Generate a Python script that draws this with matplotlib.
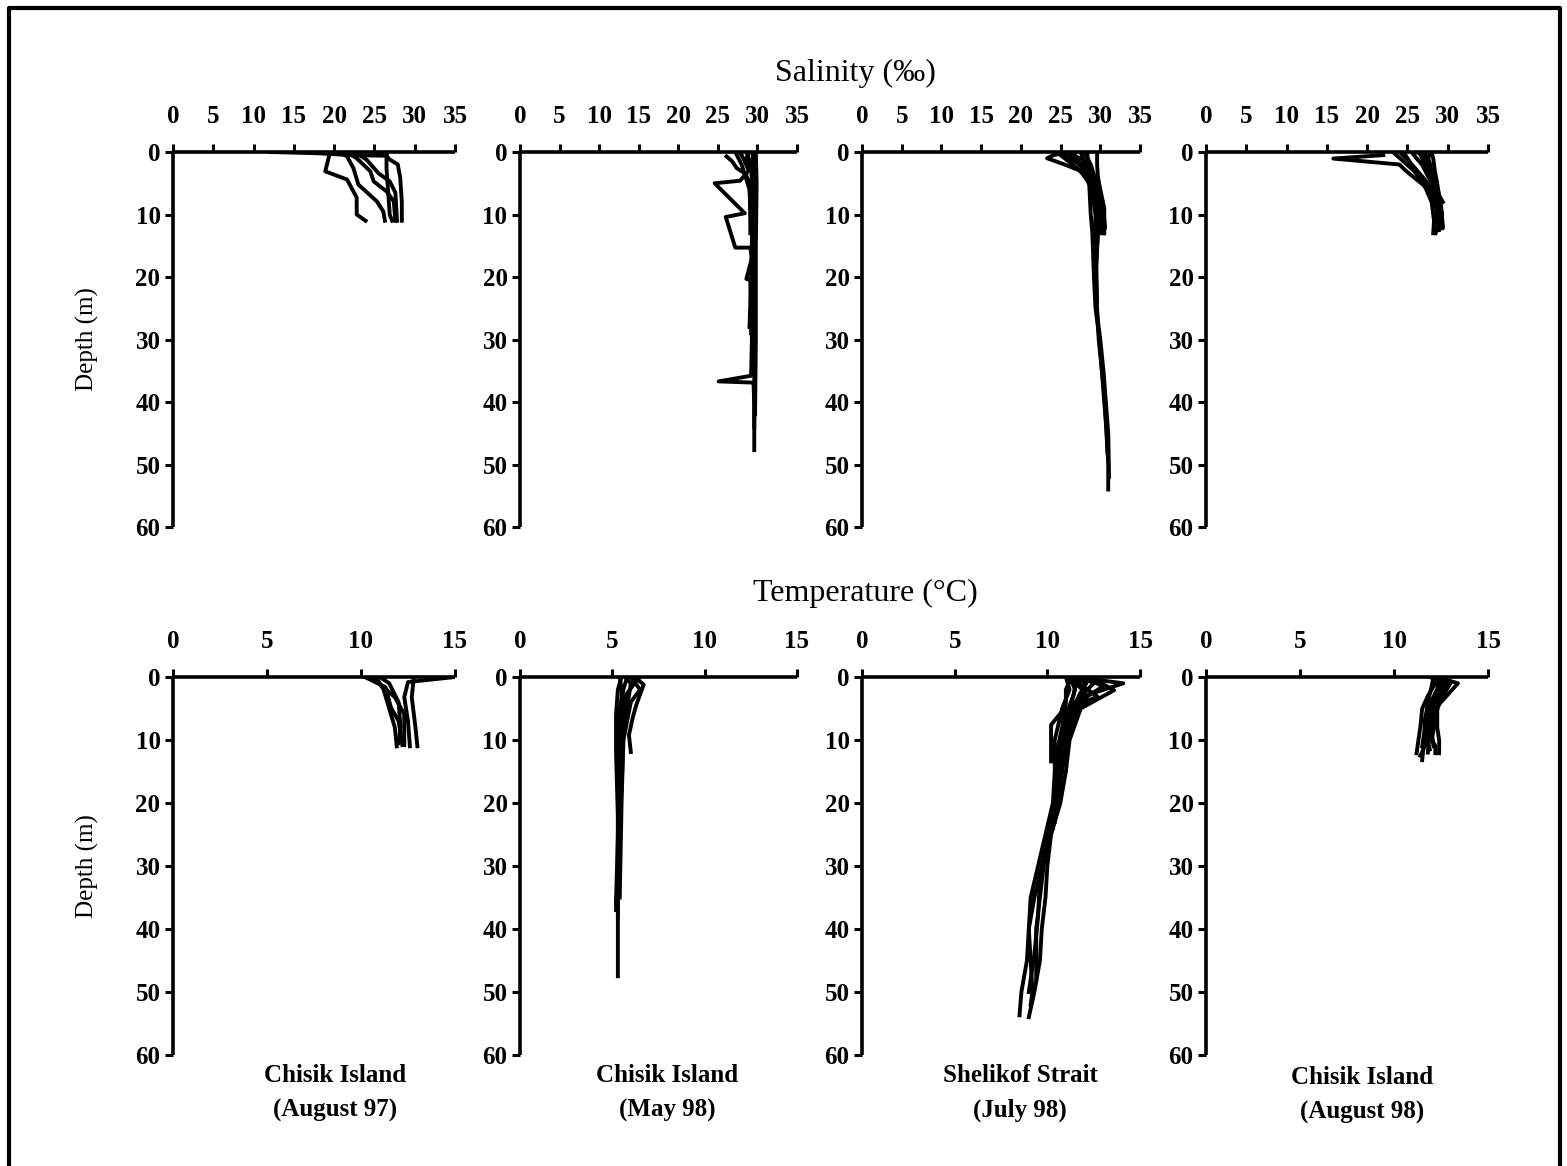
"""Salinity and temperature depth profiles, four cruises."""

import matplotlib

matplotlib.use("Agg")
import matplotlib.pyplot as plt
from matplotlib.lines import Line2D

plt.rcParams["font.family"] = ["Liberation Serif", "DejaVu Serif"]

# each profile: (depth m, value)
SAL_AUG97 = [
    ([0, 1, 3.1, 4.4, 7.3, 10, 11], [19.5, 19.3, 18.9, 21.6, 22.8, 22.8, 23.9]),
    ([0, 0.7, 2.6, 5.2, 7.9, 9.5, 11], [20.5, 21.6, 22.4, 23.0, 25.3, 26.1, 26.3]),
    ([0, 1, 3.1, 4.7, 6.3, 7.9, 11], [21.5, 22.8, 24.5, 24.9, 26.5, 27.4, 27.6]),
    ([0, 1.2, 3.4, 4.7, 6.5, 11], [22.5, 24.0, 25.5, 26.9, 27.6, 27.8]),
    ([0, 0.4, 2.6, 6.3, 10, 11], [25.0, 26.5, 26.5, 26.7, 26.9, 27.2]),
    ([0, 1.2, 2, 4.1, 8, 11], [26.0, 26.9, 27.9, 28.2, 28.4, 28.4]),
    ([0, 0.2, 0.5, 0.6], [12.0, 18.0, 22.0, 26.5]),
]
SAL_MAY98 = [
    ([0, 2, 5, 10, 15, 20, 25, 30, 35, 40, 45, 47.7],
     [28.6, 29.2, 29.3, 29.4, 29.4, 29.5, 29.5, 29.5, 29.6, 29.6, 29.6, 29.6]),
    ([0, 1.5, 3, 4.6, 5.0, 9.8, 10.4, 15.3, 15.3, 17, 20.3, 20.5, 25, 29],
     [27.8, 28.4, 28.9, 27.8, 24.6, 28.4, 26.0, 27.2, 29.1, 29.3, 28.6, 29.1, 29.2, 29.2]),
    ([0, 3, 10, 20, 30, 35.8, 36.7, 36.9, 40, 44],
     [29.4, 29.5, 29.4, 29.3, 29.3, 29.2, 25.1, 29.5, 29.6, 29.6]),
    ([0.7, 1.5, 2.6, 3.5, 5, 9, 13], [26.1, 26.8, 27.4, 28.5, 29.0, 29.1, 29.1]),
    ([0, 5, 15, 30, 42], [29.8, 29.9, 29.8, 29.8, 29.7]),
    ([0, 1, 3, 8, 20, 28], [29.0, 28.6, 29.3, 29.4, 29.2, 29.0]),
    ([0, 2, 6, 12], [27.2, 28.0, 29.0, 29.2]),
]
SAL_JUL98 = [
    ([0, 0.5, 1, 2, 3, 5, 10, 13, 20, 25, 30, 35, 40, 45, 50, 54],
     [26.0, 24.1, 23.3, 25.5, 27.5, 28.6, 28.8, 29.0, 29.2, 29.4, 29.9, 30.2, 30.5, 30.8, 31.0, 31.0]),
    ([0, 1, 2, 3, 5, 8, 12, 13], [25.0, 26.0, 27.5, 28.5, 29.2, 30.3, 30.6, 30.4]),
    ([0, 1.5, 3, 5, 9, 13, 20, 25, 30, 35, 40, 45, 52],
     [28.4, 28.4, 28.6, 29.0, 29.6, 29.4, 29.3, 29.5, 30.0, 30.4, 30.7, 31.0, 31.1]),
    ([0, 2, 4, 6, 9, 13], [29.6, 29.6, 29.7, 30.0, 30.5, 30.5]),
    ([0, 0.8, 2, 4, 7, 12, 18, 24], [27.0, 26.5, 27.8, 28.8, 29.5, 29.7, 29.5, 29.6]),
    ([0, 1, 2.5, 4, 6, 10, 13], [24.5, 25.5, 27.0, 28.2, 28.9, 29.4, 29.3]),
    ([0, 2, 4, 8, 13], [28.0, 28.8, 29.3, 30.0, 30.1]),
    ([0.5, 1.2, 3, 5, 8, 12], [26.5, 27.8, 28.8, 29.3, 29.8, 29.9]),
    ([0, 1.5, 3, 5, 7, 10, 12.5], [25.8, 27.0, 28.0, 28.8, 29.2, 29.9, 30.2]),
    ([0, 2, 5, 8, 11, 20, 30, 40, 48], [27.5, 28.2, 29.4, 29.9, 29.8, 29.4, 29.8, 30.6, 30.9]),
]
SAL_AUG98 = [
    ([0.5, 1.05, 2, 3, 5.2, 7.3, 10, 12, 13], [22.0, 15.8, 24.0, 24.8, 26.9, 28.5, 28.7, 28.7, 28.5]),
    ([0, 1, 2, 3.5, 5, 7, 10, 12.2], [24.5, 25.0, 25.5, 26.5, 27.5, 28.5, 28.9, 29.0]),
    ([0, 1, 2, 4, 6, 8, 10, 12], [27.0, 27.5, 27.8, 28.0, 28.4, 28.8, 29.0, 28.8]),
    ([0, 0.8, 2, 4, 6, 8], [25.5, 26.0, 26.8, 27.6, 28.5, 29.4]),
    ([0, 1, 3, 5, 8, 10, 12.2], [28.0, 28.2, 28.4, 28.7, 29.0, 29.3, 29.3]),
    ([0, 1.5, 3, 5, 8, 11, 13], [23.2, 24.5, 25.8, 27.0, 28.0, 28.3, 28.2]),
    ([0, 1, 2, 4, 7, 11], [26.5, 26.8, 27.2, 28.0, 28.6, 28.6]),
    ([0, 1, 2.5, 4, 6, 9, 12], [27.8, 27.6, 27.9, 28.3, 28.8, 29.2, 29.4]),
    ([0, 1.5, 3, 4.5, 6.5, 9, 12.5], [24.0, 25.2, 26.2, 27.2, 28.0, 28.6, 28.9]),
    ([0, 0.5, 2, 3.5, 5.5, 8, 11], [26.0, 27.0, 27.5, 27.8, 28.2, 28.7, 28.9]),
]
TEMP_AUG97 = [
    ([0, 1.6, 4.9, 7, 10.8], [10.2, 11.3, 11.6, 12.0, 12.2]),
    ([0, 0.3, 3.2, 5.9, 10.8], [10.5, 10.7, 11.8, 12.3, 12.3]),
    ([0, 0.8, 3.2, 7, 11], [15.0, 12.5, 12.3, 12.5, 12.6]),
    ([0, 0.3, 3.2, 8.1, 11], [12.8, 12.8, 12.7, 12.9, 13.0]),
    ([0, 2, 5, 8, 11], [10.8, 11.2, 11.5, 11.8, 11.9]),
    ([0, 1, 4, 8, 10.5], [11.0, 11.5, 12.0, 12.1, 12.0]),
]
TEMP_MAY98 = [
    ([0, 1.2, 4.4, 6.5, 9.2, 11.9], [6.2, 6.7, 6.3, 6.1, 5.9, 6.0]),
    ([0, 2, 5, 10, 20, 30, 37], [5.8, 5.6, 5.4, 5.3, 5.3, 5.3, 5.2]),
    ([0, 1, 3, 8, 15, 25, 35, 47.5], [6.5, 6.2, 5.7, 5.5, 5.4, 5.4, 5.3, 5.3]),
    ([0, 2, 6, 12, 22, 30, 38], [5.5, 5.3, 5.2, 5.2, 5.3, 5.3, 5.3]),
    ([0, 2, 4, 7, 10, 20, 35], [6.0, 6.5, 6.0, 5.8, 5.6, 5.5, 5.4]),
    ([0, 1, 3, 6, 9, 18], [5.7, 6.0, 5.9, 5.7, 5.6, 5.5]),
    ([0, 2, 5, 10, 25, 36], [5.4, 5.5, 5.5, 5.4, 5.3, 5.2]),
]
TEMP_JUL98 = [
    ([0, 1, 3, 5, 10, 15, 20, 25, 30, 35, 40, 45, 50, 53.7],
     [11.5, 14.1, 12.0, 11.5, 10.9, 10.8, 10.5, 10.1, 9.7, 9.3, 9.0, 8.9, 8.6, 8.5]),
    ([0, 2.1, 5, 10, 15, 20, 25, 30, 35, 40, 45, 50, 54],
     [12.3, 13.6, 11.8, 11.2, 11.0, 10.7, 10.2, 10.0, 9.9, 9.7, 9.6, 9.3, 9.0]),
    ([0, 3.1, 5.8, 7.6, 8.6, 13.4], [11.2, 12.7, 10.7, 10.2, 10.2, 10.2]),
    ([0, 2, 5, 10, 15, 20, 25, 30, 35, 40, 45, 50, 52],
     [11.0, 11.2, 10.8, 10.4, 10.4, 10.3, 9.9, 9.5, 9.1, 9.0, 9.1, 9.2, 9.1]),
    ([0, 1, 4, 8, 12, 16, 20, 24], [11.8, 12.5, 11.5, 11.0, 10.8, 10.6, 10.5, 10.3]),
    ([0, 2, 5, 9, 13, 18, 25], [11.2, 11.5, 11.2, 10.8, 10.6, 10.5, 10.2]),
    ([0, 1.5, 3, 6, 10, 14], [12.0, 13.0, 12.2, 11.5, 11.0, 10.9]),
    ([0, 2, 4, 8, 12, 17, 23], [11.3, 11.0, 11.0, 10.8, 10.5, 10.4, 10.4]),
    ([0, 3, 6, 10, 15, 20, 30, 40, 48], [11.6, 11.4, 11.0, 10.7, 10.6, 10.4, 9.8, 9.4, 9.4]),
    ([0, 2, 5, 8, 12, 16, 22, 26, 32, 38, 44, 50], [11.1, 11.9, 11.4, 11.1, 10.9, 10.7, 10.4, 10.0, 9.6, 9.5, 9.3, 9.0]),
    ([0, 1, 3, 6, 9, 14, 19], [11.4, 12.1, 11.7, 11.3, 10.9, 10.8, 10.6]),
]
TEMP_AUG98 = [
    ([0, 1, 3, 5, 8, 10, 12.1], [12.0, 12.2, 11.8, 11.5, 11.4, 11.3, 11.2]),
    ([0, 1, 3, 5, 8, 10, 13.2], [12.3, 13.4, 12.8, 12.2, 11.8, 11.6, 11.5]),
    ([0, 1, 3, 5, 8, 10, 12.1], [12.0, 12.6, 12.4, 12.3, 12.3, 12.4, 12.4]),
    ([0, 1, 2, 5, 8, 11, 12.1], [11.9, 12.9, 12.5, 12.0, 11.7, 12.2, 12.2]),
    ([0, 1.5, 4, 6, 9, 11], [12.1, 12.0, 11.8, 11.7, 11.6, 11.5]),
    ([0, 1, 3, 6, 9, 12], [12.2, 13.0, 12.6, 12.1, 11.9, 11.8]),
    ([0, 2, 4, 7, 10, 12.5], [12.4, 12.3, 12.0, 11.9, 11.8, 11.4]),
    ([0, 1, 3, 5, 7, 10], [12.1, 12.8, 12.3, 12.0, 12.2, 12.0]),
    ([0, 1, 2.5, 4.5, 7, 9.5, 11.5], [12.2, 12.5, 12.2, 11.9, 11.6, 11.7, 11.9]),
    ([0, 1.5, 3.5, 6, 8.5, 11], [12.3, 12.7, 12.5, 12.2, 12.0, 12.1]),
]

SITES = ["Chisik Island\n(August 97)", "Chisik Island\n(May 98)",
         "Shelikof Strait\n(July 98)", "Chisik Island\n(August 98)"]
SAL_TICKS = [0, 5, 10, 15, 20, 25, 30, 35]
TEMP_TICKS = [0, 5, 10, 15]
DEPTH_TICKS = [0, 10, 20, 30, 40, 50, 60]

W, H = 1567, 1166
COL_X = [(173, 455), (520, 797), (862, 1140), (1206, 1488)]
ROW_Y = [(152, 527), (677, 1055)]


def px_axes(fig, x0, x1, y0, y1):
    return fig.add_axes([x0 / W, 1 - y1 / H, (x1 - x0) / W, (y1 - y0) / H])


def style(ax, xmax, xticks):
    ax.set_xlim(0, xmax)
    ax.set_ylim(60, 0)
    ax.set_xticks(xticks)
    ax.set_yticks(DEPTH_TICKS)
    ax.xaxis.tick_top()
    for s in ["right", "bottom"]:
        ax.spines[s].set_visible(False)
    for s in ["top", "left"]:
        ax.spines[s].set_linewidth(2.6)
        ax.spines[s].set_capstyle("butt")
    ax.tick_params(axis="x", direction="out", length=6, width=2.2, pad=11, labelsize=18)
    ax.tick_params(axis="y", direction="out", length=6, width=2.2, pad=3, labelsize=18)
    for lab in ax.get_xticklabels() + ax.get_yticklabels():
        lab.set_fontweight("bold")
    ax.patch.set_alpha(0)


fig = plt.figure(figsize=(W / 100, H / 100), dpi=100)

panels = [[SAL_AUG97, SAL_MAY98, SAL_JUL98, SAL_AUG98],
          [TEMP_AUG97, TEMP_MAY98, TEMP_JUL98, TEMP_AUG98]]
for r, row in enumerate(panels):
    for c, profiles in enumerate(row):
        ax = px_axes(fig, *COL_X[c], *ROW_Y[r])
        for depth, val in profiles:
            ax.plot(val, depth, color="black", lw=2.8, solid_joinstyle="round")
        if r == 0:
            style(ax, 35, SAL_TICKS)
        else:
            style(ax, 15, TEMP_TICKS)
        if c == 0:
            ax.set_ylabel("Depth (m)", fontsize=18, labelpad=26)

fig.text(855 / W, 1 - 73 / H, "Salinity (‰)", ha="center", va="center", fontsize=23)
fig.text(865 / W, 1 - 593 / H, "Temperature (°C)", ha="center", va="center", fontsize=23)

site_x = [335, 667, 1020, 1362]
site_y = [1093, 1093, 1093, 1095]
for x, y, name in zip(site_x, site_y, SITES):
    fig.text(x / W, 1 - y / H, name, ha="center", va="center", fontsize=18,
             fontweight="bold", linespacing=1.6)

# scanned page frame
frame_x = [9 / W, 9 / W, 1560 / W, 1560 / W]
frame_y = [0, 1 - 8 / H, 1 - 8 / H, 0]
fig.add_artist(Line2D(frame_x, frame_y, color="black", lw=3, transform=fig.transFigure))

fig.savefig("out.png", dpi=100)
